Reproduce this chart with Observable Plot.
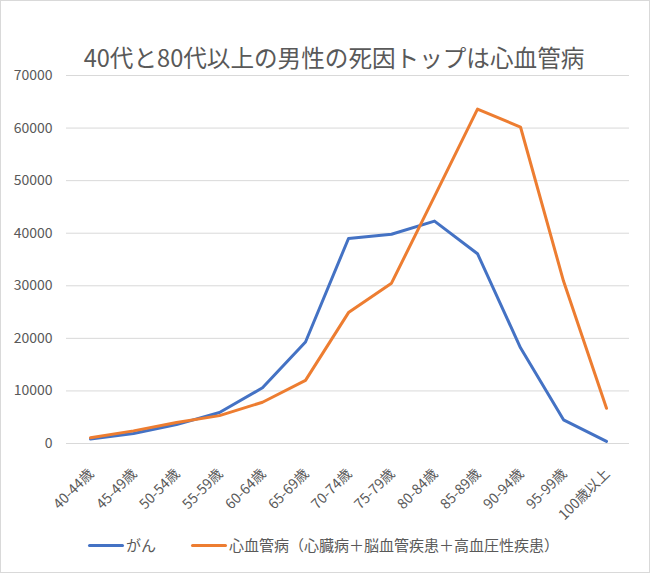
<!DOCTYPE html>
<html><head><meta charset="utf-8">
<script src="https://cdn.jsdelivr.net/npm/d3@7"></script>
<script src="https://cdn.jsdelivr.net/npm/@observablehq/plot@0.6"></script>
<style>
body{margin:0;background:#fff;}
#chart{position:relative;width:650px;height:573px;background:#fff;font-family:"Noto Sans CJK JP","Noto Sans",sans-serif;color:#595959;overflow:hidden;}
#frame{position:absolute;left:0;top:0;width:650px;height:573px;box-sizing:border-box;border:1px solid #d9d9d9;pointer-events:none;}
#title{position:absolute;top:40px;left:9px;width:650px;text-align:center;font-size:23.6px;line-height:34px;white-space:nowrap;}
#plot{position:absolute;left:0;top:60px;}
#legend{position:absolute;top:534px;left:88px;font-size:15px;line-height:22px;display:flex;align-items:center;white-space:nowrap;}
.sw{display:inline-block;width:36px;height:3px;border-radius:2px;margin-right:2px;}
.item{display:flex;align-items:center;margin-right:35px;}
</style>
</head><body>
<div id="chart">
  <div id="title"></div>
  <div id="plot"></div>
  <div id="legend"></div>
  <div id="frame"></div>
</div>
<script>
const titleText = "40代と80代以上の男性の死因トップは心血管病";
const ages = ["40-44歳","45-49歳","50-54歳","55-59歳","60-64歳","65-69歳","70-74歳","75-79歳","80-84歳","85-89歳","90-94歳","95-99歳","100歳以上"];
const seriesNames = ["がん","心血管病（心臓病＋脳血管疾患＋高血圧性疾患）"];
const cancer = [850, 1900, 3600, 5900, 10600, 19300, 39000, 39800, 42300, 36100, 18200, 4500, 400];
const cardio = [1100, 2400, 4000, 5300, 7850, 12000, 24900, 30500, 47000, 63600, 60200, 30900, 6700];
const yTicks = [0, 10000, 20000, 30000, 40000, 50000, 60000, 70000];
const colors = ["#4472C4", "#ED7D31"];

const rows = [];
ages.forEach((a, i) => rows.push({age: a, value: cancer[i], series: seriesNames[0]}));
ages.forEach((a, i) => rows.push({age: a, value: cardio[i], series: seriesNames[1]}));

document.getElementById("title").textContent = titleText;

const chart = Plot.plot({
  width: 650,
  height: 458,
  marginTop: 15,
  marginBottom: 75,
  marginLeft: 66,
  marginRight: 21,
  style: {fontFamily: '"Noto Sans CJK JP","Noto Sans",sans-serif', fontSize: "13px", color: "#595959", background: "transparent", overflow: "visible"},
  x: {type: "point", domain: ages, padding: 0.5, label: null},
  y: {domain: [0, 70000], label: null},
  color: {domain: seriesNames, range: colors},
  marks: [
    Plot.gridY(yTicks, {stroke: "#d9d9d9", strokeOpacity: 1, strokeWidth: 1}),
    Plot.axisY(yTicks, {tickSize: 0, tickPadding: 14, tickFormat: d => String(d), label: null, fontSize: 14}),
    Plot.axisX({tickSize: 0, tickRotate: -45, tickPadding: 8, label: null, fontSize: 14, dx: 1, dy: 20}),
    Plot.line(rows, {x: "age", y: "value", z: "series", stroke: "series", strokeWidth: 3, strokeLinejoin: "round", strokeLinecap: "round"})
  ]
});
document.getElementById("plot").appendChild(chart);

const legend = document.getElementById("legend");
seriesNames.forEach((s, i) => {
  const it = document.createElement("div");
  it.className = "item";
  const sw = document.createElement("span");
  sw.className = "sw";
  sw.style.background = colors[i];
  const t = document.createElement("span");
  t.textContent = s;
  it.appendChild(sw); it.appendChild(t);
  legend.appendChild(it);
});
</script>
</body></html>
